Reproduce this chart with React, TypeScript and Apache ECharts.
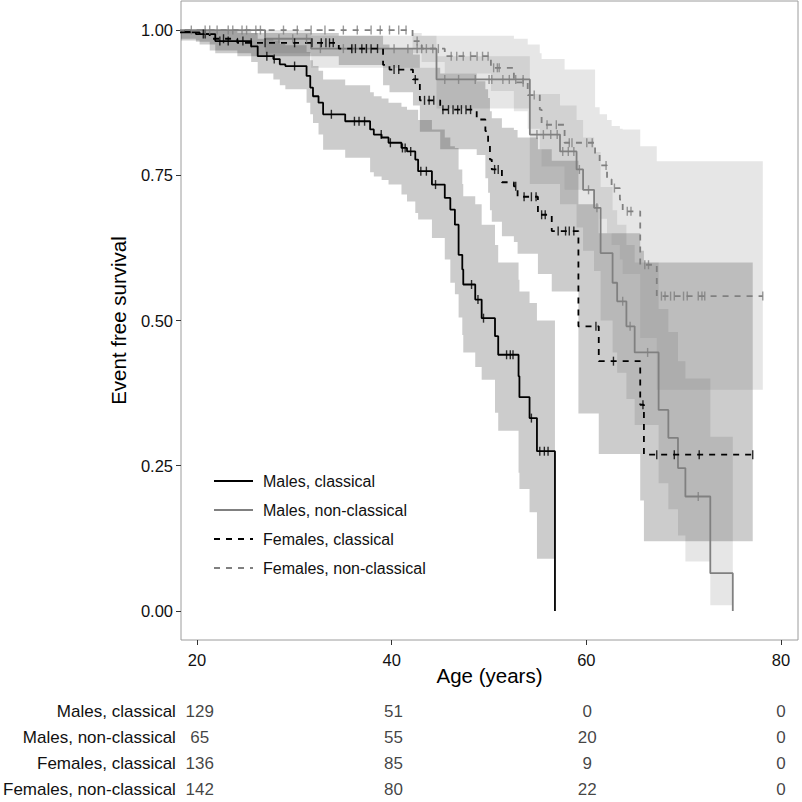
import React, { useEffect, useRef } from "react";
import * as echarts from "echarts";

const groupNames = ["Males, classical", "Males, non-classical", "Females, classical", "Females, non-classical"];
const groupColors = ["#000000", "#808080", "#000000", "#808080"];
const bandColors = ["rgba(0,0,0,0.2)", "rgba(128,128,128,0.2)", "rgba(0,0,0,0.2)", "rgba(128,128,128,0.2)"];
const groupDash: any[] = ["solid", "solid", [6, 6], [6, 6]];

const xTicks = [20, 40, 60, 80];
const yTicks = [0, 0.25, 0.5, 0.75, 1];

// Males, classical
const mcTime = [17.5, 20.27, 21.88, 25.57, 26.24, 27.85, 28.51, 29.08, 31.26, 31.64, 31.92, 32.49, 32.96, 35.23, 37.79, 38.17, 38.97, 39.68, 41.01, 41.58, 42.43, 42.72, 44.14, 45.46, 46.03, 46.5, 46.88, 47.26, 47.36, 48.59, 49.25, 50.62, 50.95, 53.04, 53.13, 54.17, 54.93, 56.78];
const mcSurv = [0.996, 0.993, 0.981, 0.972, 0.955, 0.95, 0.941, 0.938, 0.921, 0.901, 0.886, 0.875, 0.855, 0.843, 0.829, 0.82, 0.815, 0.806, 0.797, 0.791, 0.777, 0.757, 0.734, 0.711, 0.691, 0.665, 0.613, 0.588, 0.562, 0.536, 0.504, 0.473, 0.441, 0.404, 0.368, 0.332, 0.275, 0.0];
const mcLower = [0.982, 0.975, 0.96, 0.945, 0.925, 0.915, 0.905, 0.898, 0.875, 0.855, 0.84, 0.82, 0.794, 0.78, 0.755, 0.748, 0.742, 0.734, 0.717, 0.705, 0.685, 0.674, 0.642, 0.605, 0.565, 0.545, 0.505, 0.475, 0.445, 0.42, 0.398, 0.341, 0.31, 0.238, 0.21, 0.17, 0.09, 0.0];
const mcUpper = [1.0, 1.0, 1.0, 0.995, 0.985, 0.982, 0.976, 0.974, 0.962, 0.948, 0.938, 0.93, 0.915, 0.905, 0.893, 0.886, 0.882, 0.875, 0.868, 0.863, 0.863, 0.845, 0.829, 0.815, 0.8, 0.797, 0.76, 0.735, 0.714, 0.7, 0.665, 0.63, 0.6, 0.57, 0.55, 0.53, 0.5, 0.0];
const mcCensor = [20.65, 22.35, 23.21, 24.72, 27.18, 27.94, 30.03, 33.81, 36.18, 36.65, 37.22, 38.93, 39.87, 41.11, 41.39, 41.96, 43.0, 43.57, 44.51, 48.21, 48.87, 49.44, 51.81, 52.19, 52.47, 54.36, 55.22, 55.69, 56.07];

// Males, non-classical
const mnTime = [17.5, 27.0, 31.73, 44.61, 54.2, 57.3, 59.0, 59.67, 60.8, 61.47, 62.7, 63.17, 64.12, 64.97, 67.43, 68.43, 69.42, 70.18, 72.74, 75.05];
const mnSurv = [1.0, 0.985, 0.968, 0.915, 0.82, 0.791, 0.76, 0.725, 0.694, 0.616, 0.565, 0.533, 0.49, 0.445, 0.346, 0.298, 0.246, 0.197, 0.065, 0.0];
const mnLower = [1.0, 0.96, 0.935, 0.865, 0.735, 0.7, 0.66, 0.62, 0.585, 0.5, 0.445, 0.41, 0.365, 0.32, 0.22, 0.175, 0.13, 0.085, 0.01, 0.0];
const mnUpper = [1.0, 1.0, 0.99, 0.955, 0.89, 0.87, 0.845, 0.815, 0.79, 0.73, 0.69, 0.665, 0.63, 0.6, 0.52, 0.48, 0.43, 0.4, 0.3, 0.0];
const mnCensor = [21.31, 23.68, 25.1, 26.05, 28.42, 29.84, 31.26, 32.68, 35.04, 35.99, 37.41, 40.25, 41.67, 42.62, 43.09, 45.46, 46.88, 48.59, 50.01, 50.29, 51.43, 52.09, 52.75, 53.51, 54.93, 55.59, 56.35, 57.01, 57.58, 58.15, 58.72, 59.29, 60.23, 61.09, 63.74, 64.5, 66.3, 71.5];

// Females, classical
const fcTime = [17.5, 19.89, 21.31, 24.15, 34.57, 39.12, 39.78, 42.19, 42.9, 44.99, 48.74, 49.63, 49.91, 50.1, 50.29, 51.33, 52.56, 52.94, 55.03, 56.45, 59.19, 61.28, 65.54, 65.92, 77.1];
const fcSurv = [0.998, 0.993, 0.985, 0.978, 0.968, 0.94, 0.932, 0.915, 0.879, 0.863, 0.846, 0.826, 0.806, 0.777, 0.76, 0.738, 0.731, 0.713, 0.682, 0.654, 0.49, 0.43, 0.355, 0.269, 0.269];
const fcLower = [0.985, 0.98, 0.965, 0.955, 0.94, 0.905, 0.893, 0.87, 0.825, 0.795, 0.785, 0.745, 0.72, 0.69, 0.67, 0.645, 0.635, 0.615, 0.58, 0.55, 0.34, 0.27, 0.19, 0.12, 0.12];
const fcUpper = [1.0, 1.0, 1.0, 0.995, 0.99, 0.975, 0.968, 0.958, 0.935, 0.925, 0.912, 0.898, 0.883, 0.86, 0.848, 0.832, 0.828, 0.815, 0.795, 0.775, 0.7, 0.65, 0.62, 0.6, 0.6];
const fcCensor = [20.84, 22.73, 25.57, 27.0, 30.03, 31.82, 32.77, 33.25, 33.62, 34.0, 35.9, 36.28, 36.94, 37.41, 37.89, 38.55, 40.25, 40.73, 42.43, 43.38, 43.85, 44.33, 45.27, 45.84, 46.31, 46.79, 47.17, 47.64, 48.11, 50.58, 50.95, 52.75, 53.61, 54.36, 54.84, 55.41, 55.78, 57.11, 57.87, 58.25, 58.72, 60.99, 62.79, 65.82, 67.24, 69.04, 71.6, 77.1];

// Females, non-classical
const fnTime = [17.5, 42.15, 43.09, 45.46, 50.2, 52.56, 53.98, 55.22, 55.41, 57.77, 60.9, 61.37, 62.13, 62.6, 63.45, 63.74, 65.54, 67.24, 78.13];
const fnSurv = [1.0, 0.981, 0.968, 0.955, 0.935, 0.91, 0.888, 0.863, 0.837, 0.806, 0.786, 0.767, 0.743, 0.728, 0.708, 0.688, 0.596, 0.542, 0.542];
const fnLower = [1.0, 0.96, 0.945, 0.925, 0.895, 0.86, 0.83, 0.795, 0.765, 0.725, 0.7, 0.675, 0.65, 0.63, 0.605, 0.58, 0.47, 0.381, 0.381];
const fnUpper = [1.0, 0.995, 0.99, 0.99, 0.99, 0.985, 0.975, 0.96, 0.95, 0.932, 0.867, 0.855, 0.845, 0.835, 0.83, 0.829, 0.8, 0.774, 0.774];
const fnCensor = [19.42, 20.84, 22.07, 23.21, 24.63, 26.52, 28.89, 30.31, 31.73, 33.15, 35.04, 36.47, 37.89, 38.83, 39.78, 40.73, 41.48, 42.62, 43.57, 44.23, 44.8, 46.12, 46.69, 47.36, 48.11, 48.78, 49.34, 49.91, 50.48, 50.86, 51.05, 53.51, 54.65, 55.97, 56.92, 58.25, 58.53, 60.05, 60.61, 62.03, 62.89, 64.21, 64.59, 66.01, 66.39, 67.72, 68.09, 68.66, 69.04, 69.99, 70.37, 71.5, 71.88, 72.17, 78.13];

// Numbers at risk
const riskTimes = [20, 40, 60, 80];
const riskMalesClassical = [129, 51, 0, 0];
const riskMalesNonClassical = [65, 55, 20, 0];
const riskFemalesClassical = [136, 85, 9, 0];
const riskFemalesNonClassical = [142, 80, 22, 0];

const X_MIN = 18.36;
const X_MAX = 81.75;

const FONT = "'Liberation Sans', Arial, Helvetica, sans-serif";

function stepValue(times: number[], surv: number[], t: number) {
  let v = surv[0];
  for (let i = 0; i < times.length; i++) {
    if (times[i] <= t) v = surv[i];
    else break;
  }
  return v;
}

export default function App() {
  const ref = useRef<HTMLDivElement>(null);

  useEffect(() => {
    if (!ref.current) return;
    const chart = echarts.init(ref.current, undefined, { renderer: "svg" });

    const groups = [
      { t: mcTime, s: mcSurv, lo: mcLower, hi: mcUpper, c: mcCensor },
      { t: mnTime, s: mnSurv, lo: mnLower, hi: mnUpper, c: mnCensor },
      { t: fcTime, s: fcSurv, lo: fcLower, hi: fcUpper, c: fcCensor },
      { t: fnTime, s: fnSurv, lo: fnLower, hi: fnUpper, c: fnCensor },
    ];
    const risk = [riskMalesClassical, riskMalesNonClassical, riskFemalesClassical, riskFemalesNonClassical];

    const series: any[] = [];
    groups.forEach((g, gi) => {
      series.push({
        type: "custom",
        name: groupNames[gi] + " CI",
        xAxisIndex: 0,
        yAxisIndex: 0,
        silent: true,
        clip: true,
        z: 1,
        data: [[g.t[1], g.hi[0]]],
        renderItem: (params: any, api: any) => {
          const n = g.t.length - 1;
          const pts: number[][] = [];
          for (let i = 0; i < n; i++) {
            pts.push(api.coord([g.t[i], g.hi[i]]));
            pts.push(api.coord([g.t[i + 1], g.hi[i]]));
          }
          for (let i = n - 1; i >= 0; i--) {
            pts.push(api.coord([g.t[i + 1], g.lo[i]]));
            pts.push(api.coord([g.t[i], g.lo[i]]));
          }
          return { type: "polygon", shape: { points: pts }, style: { fill: bandColors[gi] } };
        },
      });
    });
    groups.forEach((g, gi) => {
      series.push({
        type: "line",
        name: groupNames[gi],
        xAxisIndex: 0,
        yAxisIndex: 0,
        step: "end",
        symbol: "none",
        clip: true,
        z: 3,
        lineStyle: { color: groupColors[gi], width: 1.8, type: groupDash[gi] },
        itemStyle: { color: groupColors[gi] },
        data: g.t.map((t, i) => [t, g.s[i]]),
      });
    });
    groups.forEach((g, gi) => {
      series.push({
        type: "scatter",
        name: groupNames[gi] + " censored",
        xAxisIndex: 0,
        yAxisIndex: 0,
        symbol: "rect",
        symbolSize: [1.4, 9],
        silent: true,
        z: 4,
        itemStyle: { color: groupColors[gi] },
        data: g.c.map((t) => [t, stepValue(g.t, g.s, t)]),
      });
    });

    const tableData: any[] = [];
    risk.forEach((row, ri) => {
      row.forEach((v, j) => tableData.push([riskTimes[j], groupNames[ri], v]));
    });
    series.push({
      type: "scatter",
      name: "risk",
      xAxisIndex: 1,
      yAxisIndex: 1,
      symbolSize: 1,
      silent: true,
      itemStyle: { color: "rgba(0,0,0,0)" },
      label: {
        show: true,
        position: "inside",
        formatter: (p: any) => String(p.value[2]),
        fontSize: 17,
        color: "#111",
        fontFamily: FONT,
      },
      data: tableData,
    });

    const option: any = {
      animation: false,
      backgroundColor: "#ffffff",
      textStyle: { fontFamily: FONT },
      grid: [
        { left: 181, right: 4, top: 1, bottom: 162, show: true, borderColor: "#9c9c9c", borderWidth: 1, backgroundColor: "transparent" },
        { left: 181, right: 4, top: 699, height: 106, show: false },
      ],
      legend: {
        data: groupNames,
        orient: "vertical",
        left: 213,
        top: 473,
        padding: 0,
        itemWidth: 39,
        itemHeight: 16,
        itemGap: 13,
        itemStyle: { opacity: 0, color: "rgba(0,0,0,0)", borderWidth: 0 },
        textStyle: { fontSize: 16, color: "#111", fontFamily: FONT, padding: [0, 0, 0, 5] },
        selectedMode: false,
      },
      xAxis: [
        {
          type: "value",
          gridIndex: 0,
          min: X_MIN,
          max: X_MAX,
          name: "Age (years)",
          nameLocation: "middle",
          nameGap: 25,
          nameMoveOverlap: false,
          nameTextStyle: { fontSize: 20.5, color: "#000", fontFamily: FONT },
          axisLine: { show: false, onZero: false },
          splitLine: { show: false },
          axisTick: { show: true, length: 5, customValues: xTicks, lineStyle: { color: "#333" } },
          axisLabel: { customValues: xTicks, fontSize: 16.5, color: "#111", margin: 11 },
        },
        { type: "value", gridIndex: 1, min: X_MIN, max: X_MAX, show: false },
      ],
      yAxis: [
        {
          type: "value",
          gridIndex: 0,
          min: -0.05,
          max: 1.05,
          name: "Event free survival",
          nameLocation: "middle",
          nameGap: 52,
          nameRotate: 90,
          nameMoveOverlap: false,
          nameTextStyle: { fontSize: 20.5, color: "#000", fontFamily: FONT },
          axisLine: { show: false, onZero: false },
          splitLine: { show: false },
          axisTick: { show: true, length: 5, customValues: yTicks, lineStyle: { color: "#333" } },
          axisLabel: { customValues: yTicks, fontSize: 16.5, color: "#111", margin: 8, formatter: (v: number) => v.toFixed(2) },
        },
        {
          type: "category",
          gridIndex: 1,
          data: groupNames,
          inverse: true,
          axisLine: { show: false },
          axisTick: { show: false },
          splitLine: { show: false },
          axisLabel: { fontSize: 17, color: "#111", margin: 8, fontFamily: FONT },
        },
      ],
      series,
    };

    chart.setOption(option);
    return () => chart.dispose();
  }, []);

  return (
    <div
      ref={ref}
      style={{ position: "fixed", left: 0, top: 0, width: 802, height: 802, background: "#fff" }}
    />
  );
}
